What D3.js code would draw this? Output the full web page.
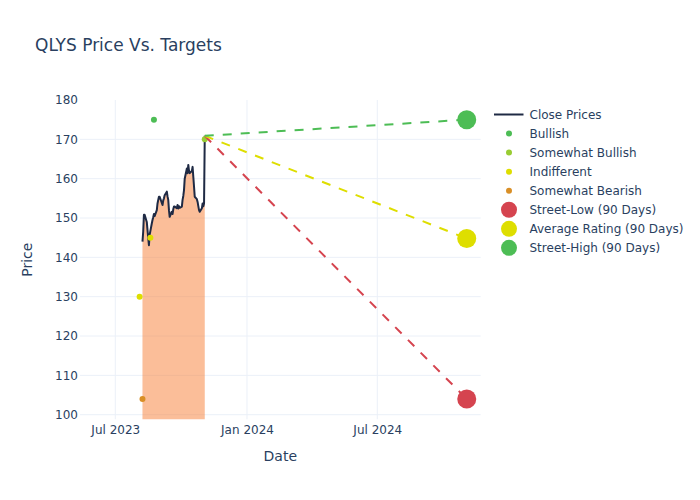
<!DOCTYPE html>
<html>
<head>
<meta charset="utf-8">
<script src="https://cdn.jsdelivr.net/npm/d3@7"></script>
<style>
  html, body { margin: 0; padding: 0; background: #fff; }
  text { font-family: "DejaVu Sans", verdana, arial, sans-serif; fill: #2a3f5f; }
</style>
</head>
<body>
<svg id="chart" width="700" height="500"></svg>
<script>
// ---------------- DATA ----------------
const closeDates = ["2023-08-08","2023-08-09","2023-08-10","2023-08-11","2023-08-14","2023-08-15","2023-08-16","2023-08-17","2023-08-18","2023-08-21","2023-08-22","2023-08-23","2023-08-24","2023-08-25","2023-08-28","2023-08-29","2023-08-30","2023-08-31","2023-09-01","2023-09-05","2023-09-06","2023-09-07","2023-09-08","2023-09-11","2023-09-12","2023-09-13","2023-09-14","2023-09-15","2023-09-18","2023-09-19","2023-09-20","2023-09-21","2023-09-22","2023-09-25","2023-09-26","2023-09-27","2023-09-28","2023-09-29","2023-10-02","2023-10-03","2023-10-04","2023-10-05","2023-10-06","2023-10-09","2023-10-10","2023-10-11","2023-10-12","2023-10-13","2023-10-16","2023-10-17","2023-10-18","2023-10-19","2023-10-20","2023-10-23","2023-10-24","2023-10-25","2023-10-26","2023-10-27","2023-10-30","2023-10-31","2023-11-01","2023-11-02","2023-11-03"];
const closePrices = [144.0,146.5,150.8,150.8,149.0,147.0,145.0,143.1,145.7,148.6,149.5,150.2,151.0,150.5,152.0,153.7,154.6,155.4,155.4,153.3,154.5,155.0,155.8,156.7,155.5,154.6,152.0,150.3,151.6,151.0,152.2,152.9,152.9,152.5,153.3,152.4,153.0,152.6,152.9,154.6,155.6,157.1,160.0,162.6,161.4,163.5,162.0,161.4,162.0,163.0,160.5,158.0,155.4,154.8,154.1,153.0,152.0,151.6,152.5,153.7,153.0,153.7,170.9];

const ratingNames   = ["Bullish","Somewhat Bullish","Indifferent","Somewhat Bearish"];
const ratingColors  = ["#4dbd55","#99cc33","#dede00","#d98f26"];
const bullishPts         = [["2023-08-24",175]];
const somewhatBullishPts = [["2023-11-03",170]];
const indifferentPts     = [["2023-08-04",130],["2023-08-19",145]];
const somewhatBearishPts = [["2023-08-08",104]];

const targetNames  = ["Street-Low (90 Days)","Average Rating (90 Days)","Street-High (90 Days)"];
const targetColors = ["#d5444f","#dede00","#4dbd55"];
const targetValues = [104, 144.8, 175];
const targetDate   = "2024-11-03";

const yTicks = [100,110,120,130,140,150,160,170,180];
const xTickDates  = ["2023-07-01","2024-01-01","2024-07-01"];
const xTickLabels = ["Jul 2023","Jan 2024","Jul 2024"];

// ---------------- CHART ----------------
const FONT = '"DejaVu Sans", verdana, arial, sans-serif';
const parse = d3.utcParse("%Y-%m-%d");
const svg = d3.select("#chart");

const x = d3.scaleUtc()
  .domain([Date.UTC(2023,4,12,17), Date.UTC(2024,10,22,12)])
  .range([80, 480.7]);
const y = d3.scaleLinear().domain([98.83, 180]).range([419.3, 100]);

// gridlines
const grid = svg.append("g");
grid.selectAll("line.gy").data(yTicks.filter(v => v < 180)).join("line")
  .attr("x1", 80).attr("x2", 480.7)
  .attr("y1", d => y(d)).attr("y2", d => y(d))
  .attr("stroke", "#ebf0f8").attr("stroke-width", 1);
grid.selectAll("line.gx").data(xTickDates).join("line")
  .attr("x1", d => x(parse(d))).attr("x2", d => x(parse(d)))
  .attr("y1", 100).attr("y2", 419.3)
  .attr("stroke", "#ebf0f8").attr("stroke-width", 1);

// axes tick labels
const yAxis = d3.axisLeft(y).tickValues(yTicks).tickSize(0).tickPadding(2);
const gy = svg.append("g").attr("transform", "translate(80,0)").call(yAxis);
gy.select(".domain").remove();
gy.selectAll("text").style("font-size", "12px").attr("fill", "#2a3f5f")
  .style("font-family", FONT);

const xAxis = d3.axisBottom(x).tickValues(xTickDates.map(parse))
  .tickFormat((d, i) => xTickLabels[i]).tickSize(0).tickPadding(6);
const gx = svg.append("g").attr("transform", "translate(0,419.3)").call(xAxis);
gx.select(".domain").remove();
gx.selectAll("text").style("font-size", "12px").attr("fill", "#2a3f5f")
  .style("font-family", FONT);

// axis titles
svg.append("text").attr("x", 280.3).attr("y", 461).attr("text-anchor", "middle")
  .style("font-size", "14px").text("Date");
svg.append("text").attr("transform", "translate(32,259.7) rotate(-90)")
  .attr("text-anchor", "middle").style("font-size", "14px").text("Price");

// title
svg.append("text").attr("x", 35).attr("y", 50.5).style("font-size", "17px")
  .text("QLYS Price Vs. Targets");

// close area + line
const closeData = closeDates.map((d, i) => ({date: parse(d), v: closePrices[i]}));
const plot = svg.append("g");
plot.append("path").datum(closeData)
  .attr("d", d3.area().x(d => x(d.date)).y0(419.3).y1(d => y(d.v)))
  .attr("fill", "rgba(247,125,51,0.5)");
plot.append("path").datum(closeData)
  .attr("d", d3.line().x(d => x(d.date)).y(d => y(d.v)))
  .attr("fill", "none").attr("stroke", "#1f2a44").attr("stroke-width", 2)
  .attr("stroke-linejoin", "round");

// rating points
const ratingSets = [bullishPts, somewhatBullishPts, indifferentPts, somewhatBearishPts];
ratingSets.forEach((pts, k) => {
  plot.selectAll(null).data(pts).join("circle")
    .attr("cx", d => x(parse(d[0]))).attr("cy", d => y(d[1]))
    .attr("r", 3).attr("fill", ratingColors[k]);
});

// dashed target lines
const last = closeData[closeData.length - 1];
targetValues.forEach((v, k) => {
  plot.append("line")
    .attr("x1", x(last.date)).attr("y1", y(last.v))
    .attr("x2", x(parse(targetDate))).attr("y2", y(v))
    .attr("stroke", targetColors[k]).attr("stroke-width", 2)
    .attr("stroke-dasharray", "9,9");
});
targetValues.forEach((v, k) => {
  plot.append("circle")
    .attr("cx", x(parse(targetDate))).attr("cy", y(v))
    .attr("r", 9.5).attr("fill", targetColors[k]);
});

// legend
const lg = svg.append("g");
const lx = 494, ty = 114.5, step = 19.05;
lg.append("line").attr("x1", lx).attr("x2", lx + 29.5).attr("y1", ty).attr("y2", ty)
  .attr("stroke", "#1f2a44").attr("stroke-width", 2);
lg.append("text").attr("x", 529.5).attr("y", ty).attr("dy", "0.35em")
  .style("font-size", "12px").text("Close Prices");
ratingNames.forEach((n, k) => {
  const yy = ty + step * (k + 1);
  lg.append("circle").attr("cx", 509).attr("cy", yy).attr("r", 3).attr("fill", ratingColors[k]);
  lg.append("text").attr("x", 529.5).attr("y", yy).attr("dy", "0.35em")
    .style("font-size", "12px").text(n);
});
targetNames.forEach((n, k) => {
  const yy = ty + step * (k + 5);
  lg.append("circle").attr("cx", 509).attr("cy", yy).attr("r", 8).attr("fill", targetColors[k]);
  lg.append("text").attr("x", 529.5).attr("y", yy).attr("dy", "0.35em")
    .style("font-size", "12px").text(n);
});
</script>
</body>
</html>
